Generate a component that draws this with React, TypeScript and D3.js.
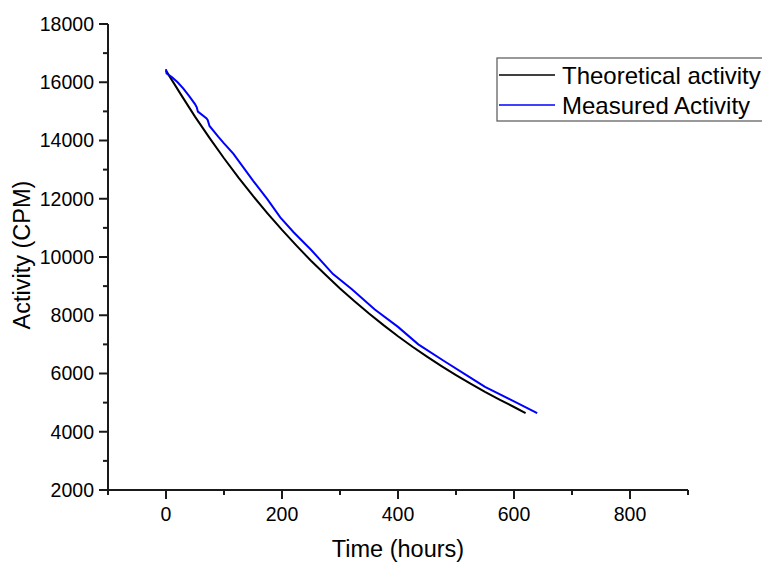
import { useEffect, useRef } from 'react'
import * as d3 from 'd3'

// theoretical decay curve (hours, CPM)
const theoTime = [0, 25, 50, 75, 100, 125, 150, 175, 200, 225, 250, 275, 300, 325, 350, 375, 400, 425, 450, 475, 500, 525, 550, 575, 600, 620]
const theoActivity = [16400, 15600, 14820, 14090, 13390, 12725, 12095, 11500, 10930, 10390, 9870, 9390, 8920, 8480, 8060, 7660, 7280, 6920, 6580, 6255, 5945, 5650, 5370, 5105, 4850, 4640]

// measured activity
const measTime = [0, 1, 10, 20, 30, 40, 50, 53, 55, 70, 72, 75, 90, 100, 116, 150, 175, 197, 220, 250, 288, 320, 360, 400, 435, 480, 520, 550, 600, 640]
const measActivity = [16450, 16300, 16180, 16000, 15780, 15520, 15250, 15140, 14990, 14760, 14700, 14500, 14130, 13900, 13550, 12620, 11980, 11360, 10850, 10250, 9414, 8900, 8200, 7600, 7000, 6420, 5920, 5540, 5040, 4640]

const xMajor = [0, 200, 400, 600, 800]
const xMinor = [-100, 100, 300, 500, 700, 900]
const yMajor = [2000, 4000, 6000, 8000, 10000, 12000, 14000, 16000, 18000]
const yMinor = [3000, 5000, 7000, 9000, 11000, 13000, 15000, 17000]

const seriesNames = ['Theoretical activity', 'Measured Activity']
const seriesColors = ['#000000', '#0000ff']

const FONT = '"Liberation Sans", Arial, sans-serif'

export default function App() {
  const svgRef = useRef<SVGSVGElement>(null)

  useEffect(() => {
    const W = 762
    const H = 563
    const svg = d3.select(svgRef.current)
    svg.selectAll('*').remove()
    svg.attr('width', W).attr('height', H)

    const x = d3.scaleLinear().domain([-100, 900]).range([108, 688])
    const y = d3.scaleLinear().domain([2000, 18000]).range([490, 24])

    const axisColor = '#1a1a1a'

    // lines
    const line = d3.line<[number, number]>()
      .x(d => x(d[0]))
      .y(d => y(d[1]))

    const theo = theoTime.map((t, i) => [t, theoActivity[i]] as [number, number])
    const meas = measTime.map((t, i) => [t, measActivity[i]] as [number, number])

    svg.append('path')
      .datum(theo)
      .attr('d', line)
      .attr('fill', 'none')
      .attr('stroke', seriesColors[0])
      .attr('stroke-width', 2)

    svg.append('path')
      .datum(meas)
      .attr('d', line)
      .attr('fill', 'none')
      .attr('stroke', seriesColors[1])
      .attr('stroke-width', 2)

    // x axis
    const gx = svg.append('g')
    gx.append('line')
      .attr('x1', x(-100)).attr('x2', x(900))
      .attr('y1', y(2000)).attr('y2', y(2000))
      .attr('stroke', axisColor).attr('stroke-width', 2)
    gx.selectAll('.xmaj')
      .data(xMajor)
      .join('line')
      .attr('x1', d => x(d)).attr('x2', d => x(d))
      .attr('y1', y(2000)).attr('y2', y(2000) + 9)
      .attr('stroke', axisColor).attr('stroke-width', 2)
    gx.selectAll('.xmin')
      .data(xMinor)
      .join('line')
      .attr('class', 'xmin')
      .attr('x1', d => x(d)).attr('x2', d => x(d))
      .attr('y1', y(2000)).attr('y2', y(2000) + 5)
      .attr('stroke', axisColor).attr('stroke-width', 2)
    gx.selectAll('text')
      .data(xMajor)
      .join('text')
      .attr('x', d => x(d))
      .attr('y', 521)
      .attr('text-anchor', 'middle')
      .attr('font-family', FONT)
      .attr('font-size', '19.5px')
      .attr('fill', '#000')
      .text(d => d)

    // y axis
    const gy = svg.append('g')
    gy.append('line')
      .attr('x1', x(-100)).attr('x2', x(-100))
      .attr('y1', y(2000) + 1).attr('y2', y(18000))
      .attr('stroke', axisColor).attr('stroke-width', 2)
    gy.selectAll('.ymaj')
      .data(yMajor)
      .join('line')
      .attr('class', 'ymaj')
      .attr('x1', x(-100) - 9).attr('x2', x(-100))
      .attr('y1', d => y(d)).attr('y2', d => y(d))
      .attr('stroke', axisColor).attr('stroke-width', 2)
    gy.selectAll('.ymin')
      .data(yMinor)
      .join('line')
      .attr('class', 'ymin')
      .attr('x1', x(-100) - 5).attr('x2', x(-100))
      .attr('y1', d => y(d)).attr('y2', d => y(d))
      .attr('stroke', axisColor).attr('stroke-width', 2)
    gy.selectAll('text')
      .data(yMajor)
      .join('text')
      .attr('x', 94)
      .attr('y', d => y(d))
      .attr('dy', '0.35em')
      .attr('text-anchor', 'end')
      .attr('font-family', FONT)
      .attr('font-size', '19.5px')
      .attr('fill', '#000')
      .text(d => d)

    // axis titles
    svg.append('text')
      .attr('x', (x(-100) + x(900)) / 2)
      .attr('y', 557)
      .attr('text-anchor', 'middle')
      .attr('font-family', FONT)
      .attr('font-size', '23.5px')
      .attr('fill', '#000')
      .text('Time (hours)')

    svg.append('text')
      .attr('transform', `translate(29.5,255) rotate(-90)`)
      .attr('text-anchor', 'middle')
      .attr('font-family', FONT)
      .attr('font-size', '23.5px')
      .attr('fill', '#000')
      .text('Activity (CPM)')

    // legend
    const lg = svg.append('g').attr('transform', 'translate(497,58)')
    lg.append('rect')
      .attr('x', 0).attr('y', 0)
      .attr('width', 290).attr('height', 63)
      .attr('fill', '#fff')
      .attr('stroke', '#555')
      .attr('stroke-width', 1.2)
    seriesNames.forEach((name, i) => {
      const cy = 17 + i * 30
      lg.append('line')
        .attr('x1', 2).attr('x2', 58)
        .attr('y1', cy).attr('y2', cy)
        .attr('stroke', seriesColors[i])
        .attr('stroke-width', 1.6)
      lg.append('text')
        .attr('x', 65)
        .attr('y', cy + 8.5)
        .attr('font-family', FONT)
        .attr('font-size', '24px')
        .attr('fill', '#000')
        .text(name)
    })
  }, [])

  return (
    <div style={{ position: 'absolute', left: 0, top: 0, background: '#fff' }}>
      <svg ref={svgRef} style={{ display: 'block' }} />
    </div>
  )
}
